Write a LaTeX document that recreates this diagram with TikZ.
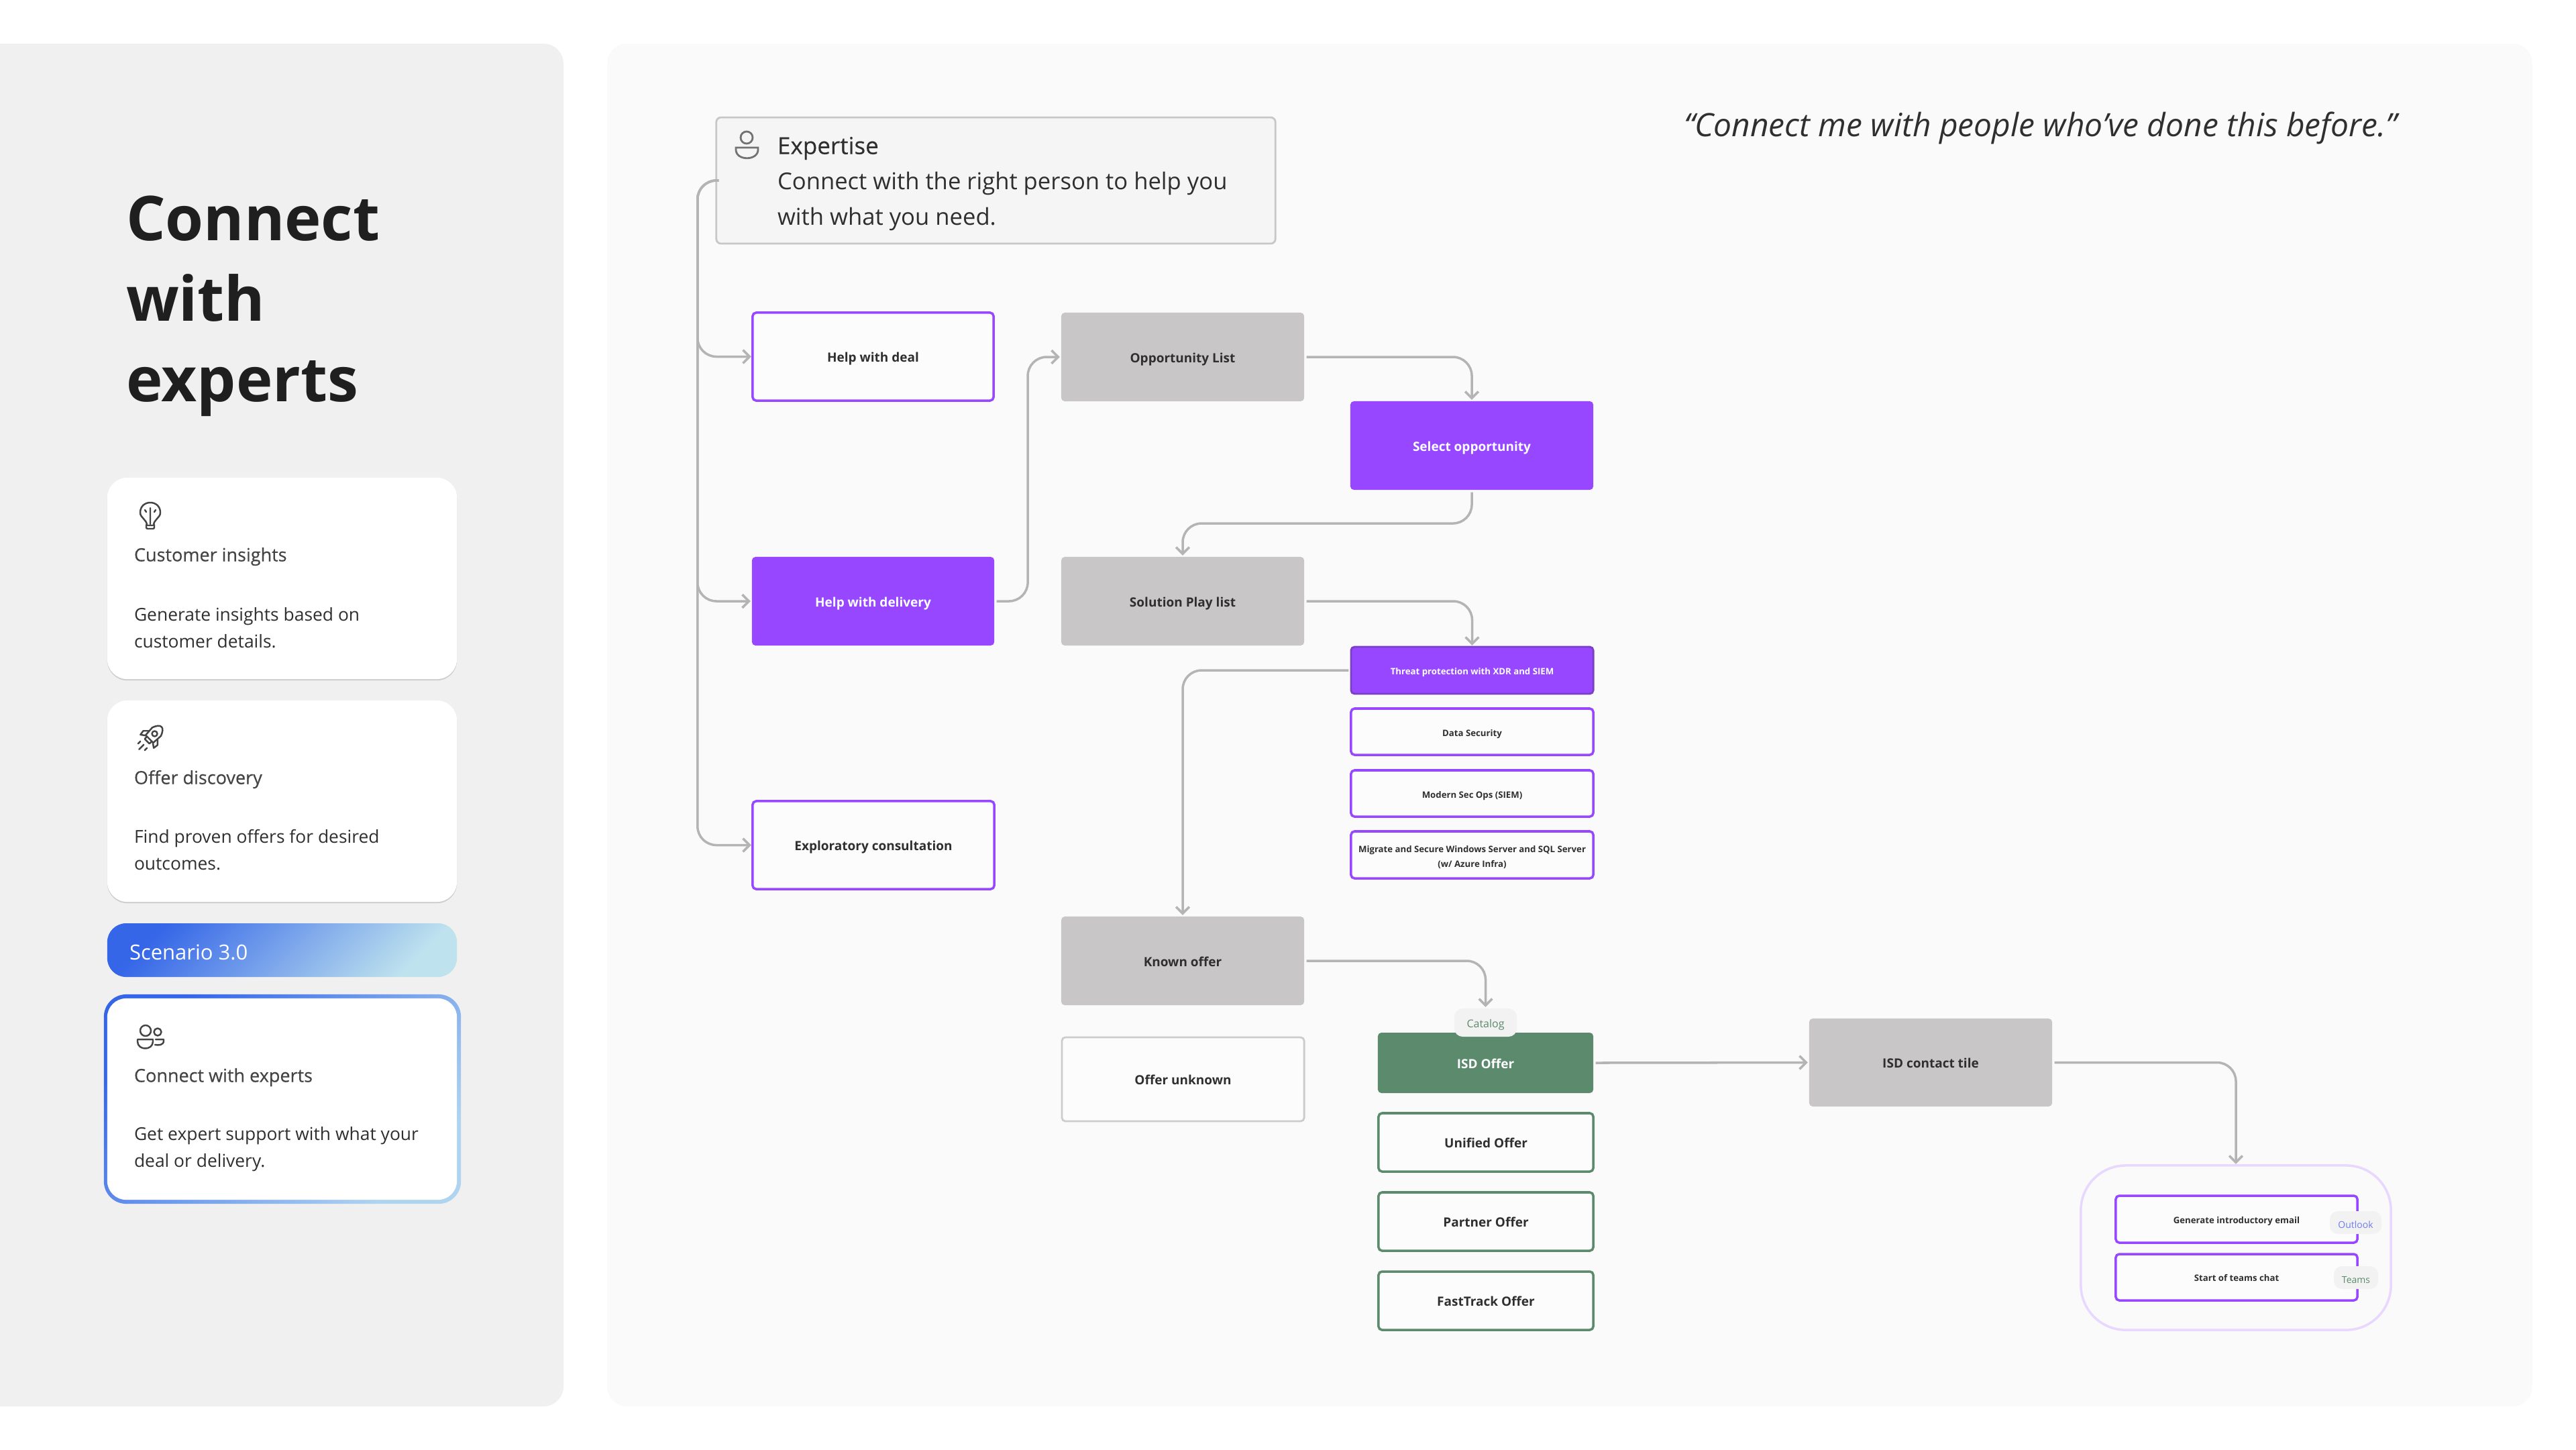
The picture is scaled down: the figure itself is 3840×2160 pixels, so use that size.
\documentclass[tikz,border=0pt]{standalone}
\usepackage{fontspec}
\setmainfont{Open Sans}
\newfontfamily\semi[FakeBold=0.35]{Open Sans}
\usetikzlibrary{arrows.meta,shadows,calc}
\newcommand{\pxf}[2]{\fontsize{\fpeval{#1*0.2845}pt}{\fpeval{#2*0.2845}pt}\selectfont}
\newcommand{\mk}[7]{\node[#2,minimum width=\fpeval{(#5-#3)*0.01}cm,minimum height=\fpeval{(#6-#4)*0.01}cm] (#1) at ({(#3+#5)/2},{(#4+#6)/2}) {#7};}
\newcommand{\rl}[1]{\raisebox{-1pt}[\height][\depth]{#1}}
\newcommand{\rlb}[1]{\raisebox{-.35pt}[\height][\depth]{#1}}
\definecolor{pur}{HTML}{9747FF}
\definecolor{purd}{HTML}{7B3FC6}
\definecolor{grn}{HTML}{5B8A6C}
\definecolor{gry}{HTML}{C8C6C6}
\definecolor{ink}{HTML}{2F2F2F}
\definecolor{conn}{HTML}{B4B4B4}
\definecolor{icn}{HTML}{444444}
\tikzset{
 nodebase/.style={inner sep=0pt,outer sep=0pt,rounded corners=1.5pt,align=center,text=ink,font=\bfseries},
 purfill/.style={nodebase,fill=pur,text=white,font=\bfseries\pxf{19}{23}},
 purline/.style={nodebase,draw=pur,line width=1pt,fill=white!50!black!2,font=\bfseries\pxf{19}{23}},
 graybox/.style={nodebase,fill=gry,font=\bfseries\pxf{19}{23}},
 threat/.style={nodebase,fill=pur,draw=purd,line width=.8pt,text=white,font=\bfseries\pxf{13.2}{22}},
 smallpur/.style={nodebase,draw=pur,line width=1pt,fill=white!50!black!2,font=\bfseries\pxf{13.2}{22}},
 grnfill/.style={nodebase,fill=grn,text=white,font=\bfseries\pxf{19}{23}},
 grnline/.style={nodebase,draw=grn,line width=1pt,fill=white!50!black!2,font=\bfseries\pxf{19}{23}},
 unk/.style={nodebase,draw=black!20,line width=.8pt,fill=white!50!black!2,font=\bfseries\pxf{19}{23}},
 chip/.style={inner sep=0pt,outer sep=0pt,fill=black!5,rounded corners=3.5pt,font=\pxf{16}{18}},
 card/.style={inner sep=0pt,outer sep=0pt,fill=white,rounded corners=8.5pt,general shadow={fill=black,opacity=.14,shadow yshift=-.6pt}},
 txt/.style={inner sep=0pt,outer sep=0pt,anchor=west,align=left},
 cardhead/.style={txt,text=icn,font=\semi\pxf{27}{32}},
 cardbody/.style={txt,text=ink,font=\pxf{26.4}{40}},
 icon/.style={draw=icn,line width=.7pt,line cap=round,line join=round},
 link/.style={draw=conn,line width=1pt,rounded corners=8pt,shorten <=1pt,shorten >=.6pt,-{Straight Barb[length=2.8pt,width=5.6pt]}},
}
\begin{document}
\begin{tikzpicture}[x=0.01cm,y=-0.01cm]
\useasboundingbox (0,0) rectangle (3840,2160);
\fill[white] (0,0) rectangle (3840,2160);
% panels
\fill[black!6] (0,65) [rounded corners=8.5pt] -- (840,65) -- (840,2096) [sharp corners] -- (0,2096) -- cycle;
\fill[black!2,rounded corners=8.5pt] (905,65) rectangle (3775,2096);
% title
\node[txt,text=black!88,font=\bfseries\pxf{92}{120}] (title) at (188,456) {Connect\\with\\experts};
% cards
\mk{cardA}{card}{160}{712}{681}{1012}{}
\mk{cardB}{card}{160}{1044}{681}{1344}{}
\mk{scen}{shade,inner sep=0pt,outer sep=0pt,rounded corners=8pt,shading=axis,left color={rgb,255:red,53;green,102;blue,232},right color={rgb,255:red,190;green,226;blue,238},shading angle=45}{160}{1376}{681}{1456}{}
\mk{cardCo}{shade,inner sep=0pt,outer sep=0pt,rounded corners=9.5pt,shading=axis,left color={rgb,255:red,53;green,102;blue,232},right color={rgb,255:red,175;green,212;blue,240},shading angle=45}{155}{1482}{687}{1794}{}
\mk{cardC}{inner sep=0pt,outer sep=0pt,fill=white,rounded corners=8pt}{160}{1488}{681}{1788}{}
\node[cardhead] (hA) at (200,829.5) {Customer insights};
\node[cardbody] (bA) at (200,936) {Generate insights based on\\customer details.};
\node[cardhead] (hB) at (200,1161.5) {Offer discovery};
\node[cardbody] (bB) at (200,1267) {Find proven offers for desired\\outcomes.};
\node[txt,text=white,font=\pxf{31}{36}] (hS) at (193,1419) {Scenario 3.0};
\node[cardhead] (hC) at (200,1605.5) {Connect with experts};
\node[cardbody] (bC) at (200,1713) {Get expert support with what your\\deal or delivery.};
% bulb icon
\draw[icon] (219,783) .. controls (219,774) and (209,772) .. (209,764) .. controls (209,744) and (239,744) .. (239,764) .. controls (239,772) and (229,774) .. (229,783) -- cycle;
\draw[icon] (218,782) -- (218,786) arc[start angle=180,end angle=90,radius=2] -- (228,788) arc[start angle=90,end angle=0,radius=2] -- (230,782);
\draw[icon] (224,757) -- (224,781) (216,760) -- (218,763) (232,760) -- (230,763);
% rocket icon
\begin{scope}[shift={(227,1097)},rotate=-45]
\draw[icon] (-9,-9) .. controls (-4,-23) and (4,-23) .. (9,-9) -- (8,6) -- (-8,6) -- cycle;
\draw[icon] (0,-5) circle[radius=4];
\draw[icon] (-9,-2) -- (-15,4) -- (-14,11) -- (-7,6) (9,-2) -- (15,4) -- (14,11) -- (7,6);
\draw[icon] (-5,6) -- (-5,11) -- (5,11) -- (5,6);
\draw[icon] (0,18) -- (0,28) (-7,18) -- (-7,23) (7,18) -- (7,23);
\end{scope}
% people icon
\draw[icon] (217,1536) circle[radius=8];
\draw[icon] (235,1538) circle[radius=5.5];
\draw[icon] (205,1549) -- (228,1549) -- (228,1552) .. controls (228,1566) and (205,1566) .. (205,1552) -- cycle;
\draw[icon] (232,1549) -- (244,1549) -- (244,1551) .. controls (244,1558) and (236,1558) .. (231,1557);
% quote
\node[txt,text=ink,font=\itshape\pxf{47.9}{50}] (quote) at (2510,191) {“Connect me with people who’ve done this before.”};
% expertise
\mk{exp}{inner sep=0pt,outer sep=0pt,fill=black!4,draw=black!22,line width=.8pt,rounded corners=2pt}{1068}{175}{1901}{363}{}
\draw[draw=black!55,line width=.8pt] (1113,205) circle[radius=9];
\draw[draw=black!55,line width=.8pt] (1097,220) -- (1130,220) -- (1130,223) .. controls (1130,240) and (1097,240) .. (1097,223) -- cycle;
\node[txt,text=ink,font=\semi\pxf{35}{40}] (expH) at (1159,221) {Expertise};
\node[txt,text=ink,font=\pxf{34.6}{52}] (expB) at (1159,300) {Connect with the right person to help you\\with what you need.};
% flow boxes
\mk{deal}{purline}{1122}{466}{1481}{597}{\rl{Help with deal}}
\mk{del}{purfill}{1121}{830}{1482}{962}{\rl{Help with delivery}}
\mk{expl}{purline}{1122}{1194}{1482}{1325}{\rl{Exploratory consultation}}
\mk{opp}{graybox}{1582}{466}{1944}{598}{\rl{Opportunity List}}
\mk{sel}{purfill}{2013}{598}{2375}{730}{\rl{Select opportunity}}
\mk{sol}{graybox}{1582}{830}{1944}{962}{\rl{Solution Play list}}
\mk{th}{threat}{2014}{964}{2375}{1034}{\rl{Threat protection with XDR and SIEM}}
\mk{dat}{smallpur}{2014}{1056}{2375}{1125}{\rl{Data Security}}
\mk{sec}{smallpur}{2014}{1148}{2375}{1217}{\rl{Modern Sec Ops (SIEM)}}
\mk{mig}{smallpur}{2014}{1239}{2375}{1309}{\rl{Migrate and Secure Windows Server and SQL Server}\\\rl{(w/ Azure Infra)}}
\mk{kn}{graybox}{1582}{1366}{1944}{1498}{\rlb{Known offer}}
\mk{unk}{unk}{1583}{1546}{1944}{1671}{\rlb{Offer unknown}}
\mk{isd}{grnfill}{2054}{1539}{2375}{1629}{\rlb{ISD Offer}}
\mk{uni}{grnline}{2055}{1659}{2375}{1746}{\rlb{Unified Offer}}
\mk{par}{grnline}{2055}{1777}{2375}{1864}{\rlb{Partner Offer}}
\mk{fas}{grnline}{2055}{1895}{2375}{1982}{\rlb{FastTrack Offer}}
\mk{cat}{chip,text=grn}{2168}{1503}{2261}{1545}{\rl{Catalog}}
\mk{tile}{graybox}{2697}{1518}{3059}{1649}{\rlb{ISD contact tile}}
\mk{grp}{inner sep=0pt,outer sep=0pt,draw=pur!22,line width=1pt,rounded corners=19pt}{3102}{1737}{3564}{1982}{}
\mk{gen}{smallpur}{3154}{1782}{3514}{1852}{\rl{Generate introductory email}}
\mk{sta}{smallpur}{3154}{1869}{3514}{1938}{\rlb{Start of teams chat}}
\mk{out}{chip,text={rgb,255:red,110;green,125;blue,240},font=\pxf{14}{18}}{3473}{1805}{3550}{1839}{\rl{Outlook}}
\mk{tea}{chip,text=grn,font=\pxf{14}{18}}{3479}{1887}{3545}{1921}{\rl{Teams}}
% connectors
\draw[link] (exp.west) -- ++(-28,0) |- (deal.west);
\draw[link] (exp.west) -- ++(-28,0) |- (del.west);
\draw[link] (exp.west) -- ++(-28,0) |- (expl.west);
\draw[link] (del.east) -- ++(50,0) |- (opp.west);
\draw[link] (opp.east) -| (sel.north);
\draw[link] (sel.south) -- ++(0,50) -| (sol.north);
\draw[link] (sol.east) -| (th.north);
\draw[link] (th.west) -| (kn.north);
\draw[link] (kn.east) -| (cat.north);
\draw[link] (isd.east) -- (tile.west);
\draw[link] (tile.east) -| (grp.north);
\end{tikzpicture}
\end{document}
